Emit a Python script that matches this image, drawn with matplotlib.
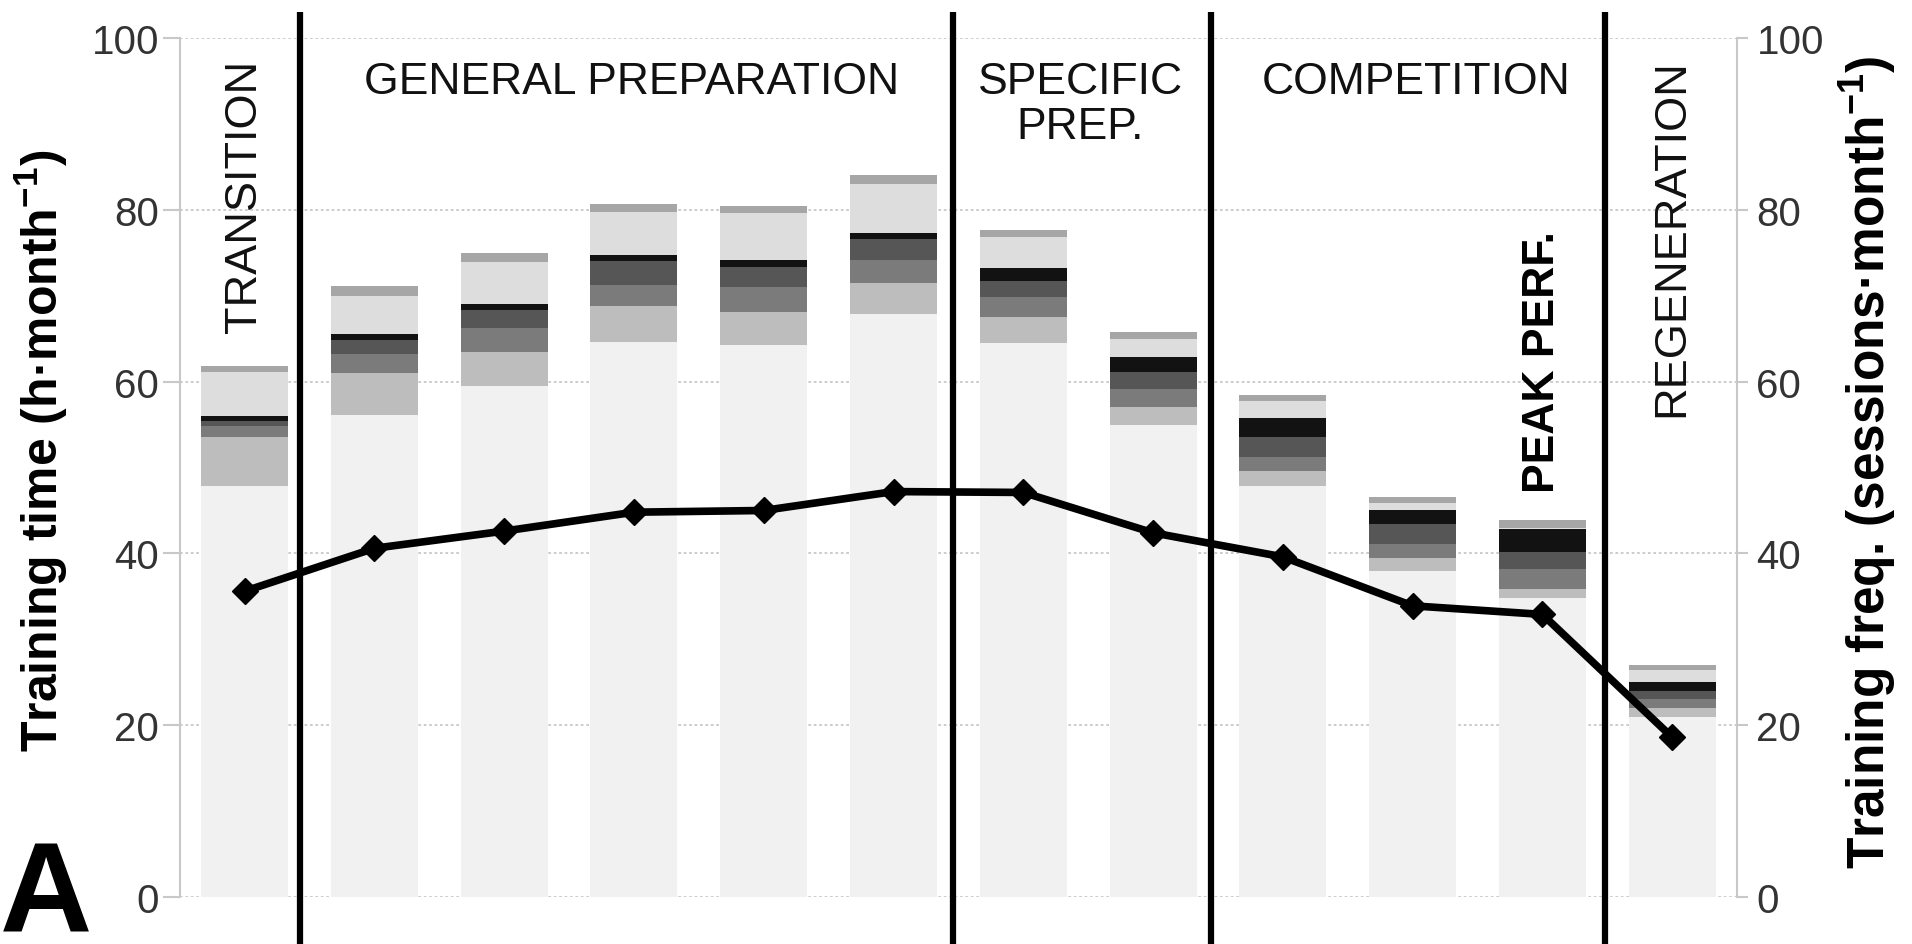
import numpy as np
import matplotlib
matplotlib.use('Agg')
import matplotlib.pyplot as plt

# ------------------------------------------------------------------------------------- #
# Monthly training time (stacked by intensity zone) and training frequency
# ------------------------------------------------------------------------------------- #

plt.rcParams['font.family'] = ['Liberation Sans', 'DejaVu Sans']
plt.rcParams['mathtext.default'] = 'regular'

months = np.arange(12)

# training time per zone [h/month], bottom to top
zone_base = [47.8, 56.1, 59.5, 64.6, 64.3, 67.9, 64.5, 54.9, 47.8, 38.0, 34.8, 21.0]
zone_1 = [5.7, 4.9, 4.0, 4.2, 3.8, 3.6, 3.0, 2.2, 1.8, 1.5, 1.1, 1.0]
zone_2 = [1.3, 2.2, 2.7, 2.4, 2.9, 2.7, 2.4, 2.0, 1.6, 1.6, 2.3, 1.0]
zone_3 = [0.6, 1.6, 2.1, 2.8, 2.4, 2.4, 1.8, 2.0, 2.4, 2.3, 2.0, 1.0]
zone_4 = [0.6, 0.7, 0.7, 0.7, 0.8, 0.7, 1.5, 1.8, 2.2, 1.6, 2.6, 1.0]
zone_5 = [5.1, 4.5, 4.9, 5.0, 5.4, 5.7, 3.6, 2.1, 1.9, 0.9, 0.2, 1.4]
zone_6 = [0.7, 1.1, 1.1, 1.0, 0.9, 1.0, 0.8, 0.8, 0.7, 0.7, 0.9, 0.6]

# training sessions per month
sessions = [35.6, 40.6, 42.6, 44.8, 45.0, 47.2, 47.1, 42.4, 39.6, 33.9, 32.9, 18.6]

# phase boundaries (between months)
phase_bounds = [0.43, 5.46, 7.45, 10.48]

zones = [zone_base, zone_1, zone_2, zone_3, zone_4, zone_5, zone_6]
zone_colors = ['#f1f1f1', '#bdbdbd', '#7b7b7b', '#565656', '#121212', '#dddddd', '#a6a6a6']

fig = plt.figure(figsize=(19.12, 9.45), dpi=100)
ax = fig.add_axes([0.094, 0.0497, 0.8145, 0.909])

bottom = np.zeros(len(months))
for vals, col in zip(zones, zone_colors):
    ax.bar(months, vals, width=0.67, bottom=bottom, color=col, linewidth=0, zorder=2)
    bottom += np.array(vals)

ax.set_xlim(-0.5, 11.5)
ax.set_ylim(0, 100)
ax.set_yticks([0, 20, 40, 60, 80, 100])
ax.set_xticks([])
ax.grid(axis='y', color='#c8c8c8', linestyle=(0, (1.5, 1.5)), linewidth=1.3, zorder=0)
for s in ['top', 'bottom', 'right']:
    ax.spines[s].set_visible(False)
ax.spines['left'].set_color('#c8c8c8')
ax.spines['left'].set_linewidth(1.5)
ax.tick_params(axis='y', colors='#c8c8c8', labelcolor='#333333', labelsize=29,
               length=12, width=1.5, pad=3)

# sessions on the second axis
ax2 = ax.twinx()
ax2.set_ylim(0, 100)
ax2.set_yticks([0, 20, 40, 60, 80, 100])
for s in ['top', 'bottom', 'left']:
    ax2.spines[s].set_visible(False)
ax2.spines['right'].set_color('#c8c8c8')
ax2.spines['right'].set_linewidth(1.5)
ax2.tick_params(axis='y', colors='#c8c8c8', labelcolor='#333333', labelsize=29,
                length=8, width=1.5, pad=6)
ax2.plot(months, sessions, color='black', linewidth=5.5, marker='D', markersize=13,
         zorder=5)

# axis titles
fig.text(0.0218, 0.523, 'Training time (h·month$^{-1}$)', rotation=90,
         fontsize=36, fontweight='bold', ha='center', va='center')
fig.text(0.977, 0.511, 'Training freq. (sessions·month$^{-1}$)', rotation=90,
         fontsize=37, fontweight='bold', ha='center', va='center')

# phase separators
for xb in phase_bounds:
    ax2.plot([xb, xb], [-6, 103], color='black', linewidth=4.5, clip_on=False,
             solid_capstyle='butt', zorder=4)

txt = dict(fontsize=32, color='#111111')
rtxt = dict(fontsize=32.5, color='#111111')
ax2.text(0.0, 97.6, 'TRANSITION', rotation=90, ha='center', va='top', **rtxt)
ax2.text(2.98, 93.6, 'GENERAL PREPARATION', ha='center', va='baseline', **txt)
ax2.text(6.44, 93.6, 'SPECIFIC', ha='center', va='baseline', **txt)
ax2.text(6.44, 88.4, 'PREP.', ha='center', va='baseline', **txt)
ax2.text(9.03, 93.6, 'COMPETITION', ha='center', va='baseline', **txt)
ax2.text(10.0, 77.6, 'PEAK PERF.', rotation=90, ha='center', va='top',
         fontsize=32, fontweight='bold', color='black')
ax2.text(11.0, 97.6, 'REGENERATION', rotation=90, ha='center', va='top', **rtxt)

fig.text(0.0, 1 - 933 / 945, 'A', fontsize=92, fontweight='bold',
         ha='left', va='baseline')

fig.savefig('out.png', dpi=100)
